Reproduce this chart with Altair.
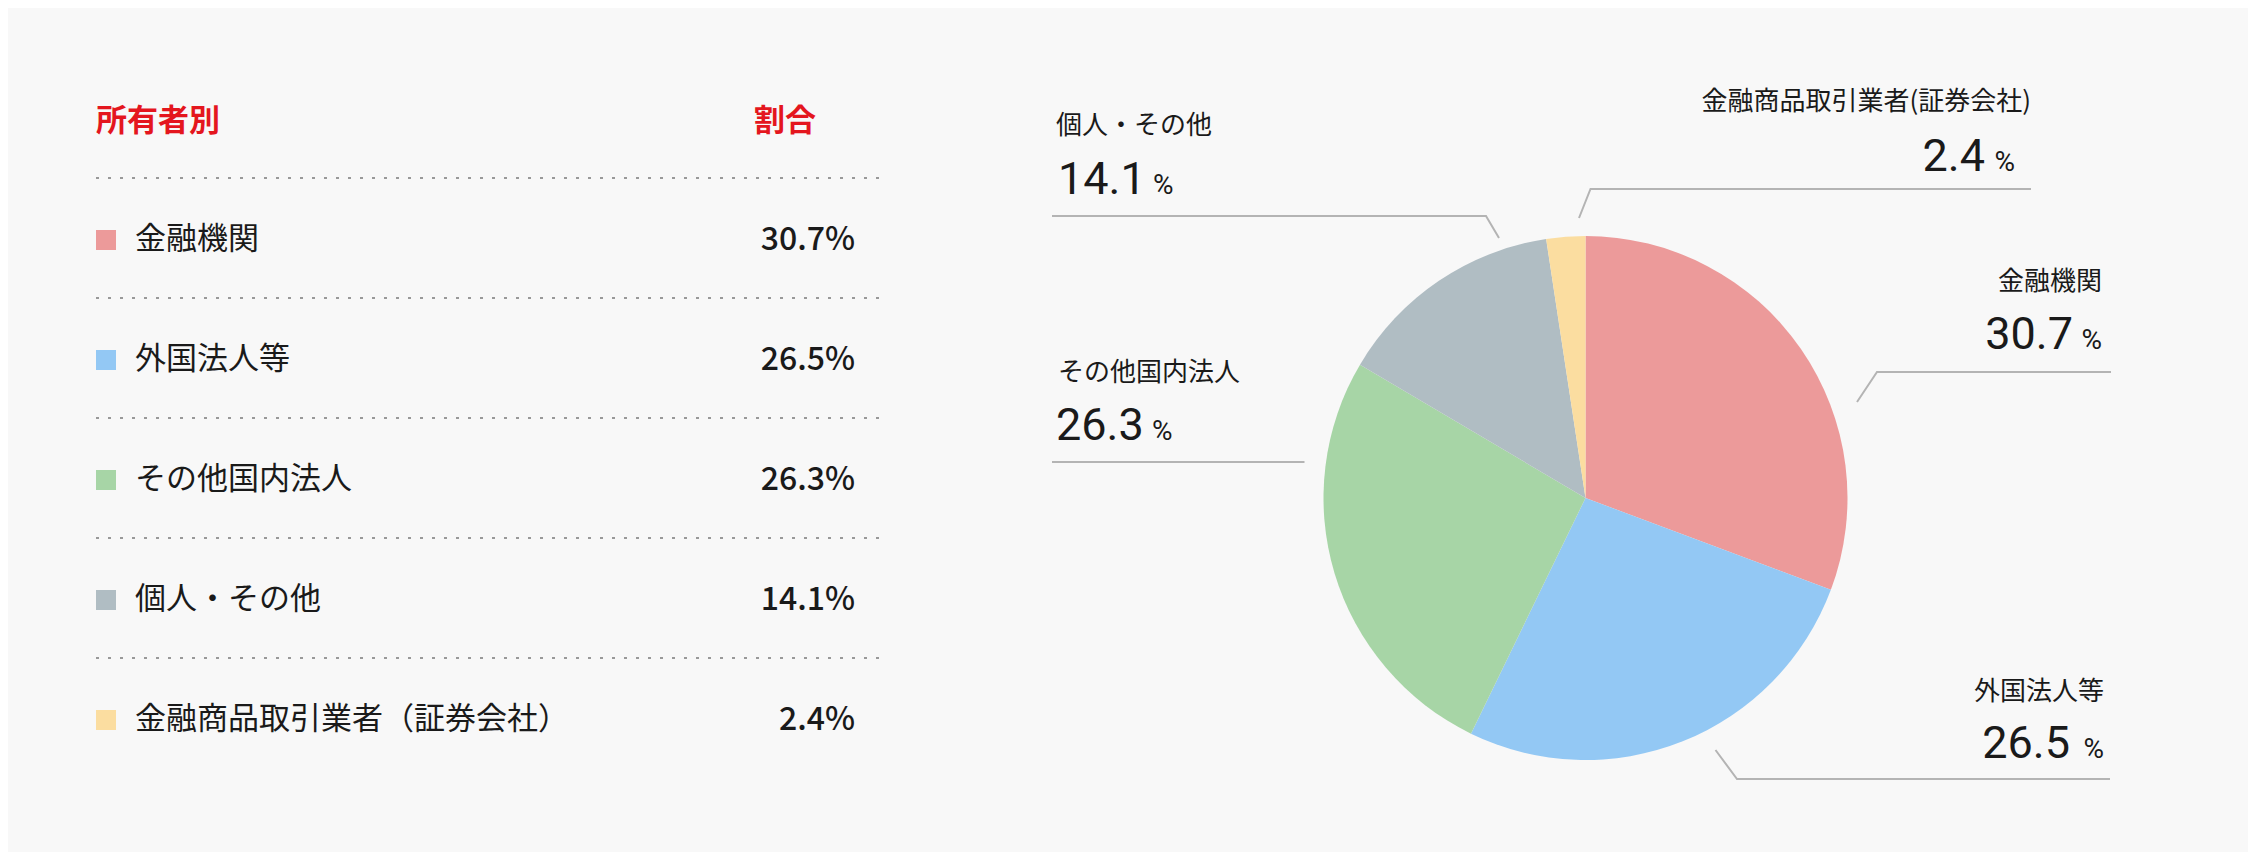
import altair as alt
import pandas as pd

# ---- data ----
names = ["金融機関", "外国法人等", "その他国内法人", "個人・その他", "金融商品取引業者（証券会社）"]
pie_names = ["金融機関", "外国法人等", "その他国内法人", "個人・その他", "金融商品取引業者(証券会社)"]
values = [30.7, 26.5, 26.3, 14.1, 2.4]
colors = ["#ec9a9a", "#93c8f4", "#a7d5a6", "#b0bdc3", "#fbdda0"]
header_left = "所有者別"
header_right = "割合"

JP = "Noto Sans CJK JP"
NUM = "Roboto"
TXT = "#1a1a1a"

df = pd.DataFrame({
    "name": names,
    "pie_name": pie_names,
    "value": values,
    "idx": list(range(len(names))),
})
df["val_txt"] = [f"{v:.1f}%" for v in values]
df["num_txt"] = [f"{v:.1f}" for v in values]

color_scale = alt.Scale(domain=names, range=colors)

# ---------------- left: table ----------------
ys = alt.Y("name:N", sort=names, axis=None,
           scale=alt.Scale(type="point", domain=names, range=[232, 712], padding=0))

base_t = alt.Chart(df)

hdr1 = alt.Chart(df.head(1)).mark_text(
    align="left", baseline="middle", font=JP, fontSize=31, fontWeight="bold", color="#e4161e"
).encode(x=alt.value(88), y=alt.value(114), text=alt.value(header_left))
hdr2 = alt.Chart(df.head(1)).mark_text(
    align="left", baseline="middle", font=JP, fontSize=31, fontWeight="bold", color="#e4161e"
).encode(x=alt.value(746), y=alt.value(114), text=alt.value(header_right))

rules = base_t.mark_rule(strokeDash=[3, 9], color="#999999", strokeWidth=2, yOffset=-62).encode(
    y=ys, x=alt.value(88), x2=alt.value(872)
)
squares = base_t.mark_square(size=400, opacity=1).encode(
    y=ys, x=alt.value(98),
    color=alt.Color("name:N", scale=color_scale, legend=None),
)
labels = base_t.mark_text(align="left", baseline="middle", font=JP, fontSize=31, color=TXT).encode(
    y=ys, x=alt.value(127), text="name:N"
)
vals = base_t.mark_text(align="right", baseline="middle", font=JP, fontSize=32, fontWeight=500, color=TXT).encode(
    y=ys, x=alt.value(847), text="val_txt:N"
)
table = alt.layer(hdr1, hdr2, rules, squares, labels, vals).properties(width=1000, height=844)

# ---------------- right: pie ----------------
W, H = 1240, 844
xs = lambda f: alt.X(f, scale=alt.Scale(domain=[0, W], nice=False, zero=False), axis=None)
yq = lambda f: alt.Y(f, scale=alt.Scale(domain=[0, H], nice=False, zero=False, reverse=True), axis=None)

pie = alt.Chart(df).mark_arc(outerRadius=262).encode(
    theta=alt.Theta("value:Q", stack=True),
    order=alt.Order("idx:Q"),
    color=alt.Color("name:N", scale=color_scale, legend=None),
    x=alt.value(577.5), y=alt.value(490),
)

# annotation layout (label anchors and leader lines)
lab_layout = pd.DataFrame({
    "idx": [0, 1, 2, 3, 4],
    "side": ["r", "r", "l", "l", "r"],
    "lx": [1094, 1096, 50, 48, 1023],
    "ly": [274, 684, 365, 118, 94],
    "nx": [1065, 1062, 48, 50, 977],
    "px": [1094, 1096, 144, 145, 1007],
    "nb": [341, 750, 432, 186, 163],
})
lab = lab_layout.merge(df, on="idx")

leader = pd.DataFrame({
    "seg": [0, 0, 0, 1, 1, 1, 2, 2, 3, 3, 3, 4, 4, 4],
    "k":   [0, 1, 2, 0, 1, 2, 0, 1, 0, 1, 2, 0, 1, 2],
    "x": [849, 869, 1103, 707.5, 729, 1102, 44, 296.5, 44, 478, 491, 571, 582.5, 1023],
    "y": [394, 364, 364, 742, 771, 771, 454, 454, 208, 208, 230, 210, 181, 181],
})

lines = alt.Chart(leader).mark_line(color="#b4b4b4", strokeWidth=2).encode(
    x=xs("x:Q"), y=yq("y:Q"), detail="seg:N", order="k:Q"
)

layers = [pie, lines]
for side, al in (("r", "right"), ("l", "left")):
    sub = alt.Chart(lab).transform_filter(alt.datum.side == side)
    layers.append(sub.mark_text(align=al, baseline="middle", font=JP, fontSize=26, color=TXT).encode(
        x=xs("lx:Q"), y=yq("ly:Q"), text="pie_name:N"))
    layers.append(sub.mark_text(align=al, baseline="alphabetic", font=NUM, fontSize=45, color=TXT).encode(
        x=xs("nx:Q"), y=yq("nb:Q"), text="num_txt:N"))
    layers.append(sub.mark_text(align=al, baseline="alphabetic", font=NUM, fontSize=28, color=TXT).encode(
        x=xs("px:Q"), y=yq("nb:Q"), text=alt.value("%")))

pie_chart = alt.layer(*layers).properties(width=W, height=H)

chart = alt.hconcat(table, pie_chart, spacing=0).properties(
    padding=0, background="#f8f8f8"
).configure_view(stroke=None).configure_concat(spacing=0)

chart.save("out.html", embed_options={"renderer": "svg", "actions": False})
